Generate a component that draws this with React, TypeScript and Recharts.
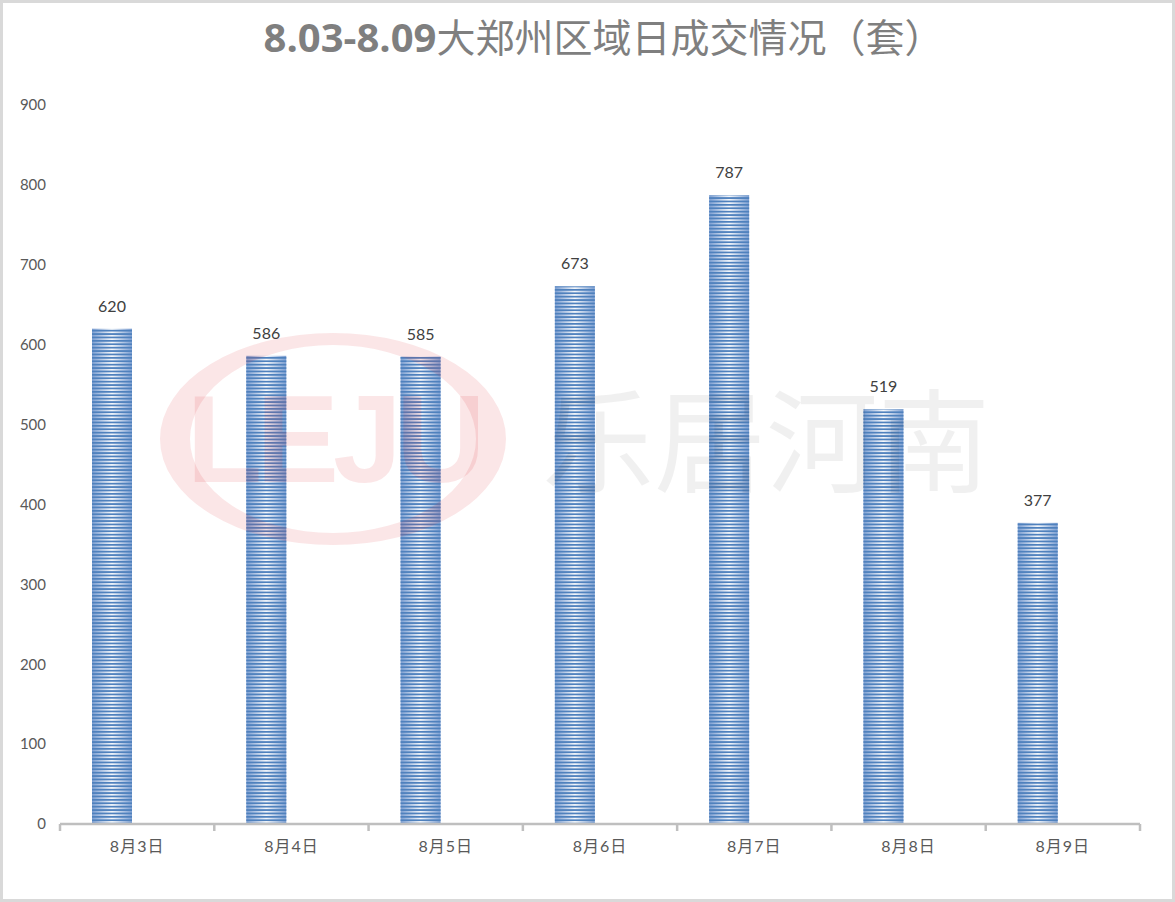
import React from 'react';
import { BarChart, Bar, XAxis, YAxis, LabelList } from 'recharts';

const days = ['8月3日', '8月4日', '8月5日', '8月6日', '8月7日', '8月8日', '8月9日'];
const deals = [620, 586, 585, 673, 787, 519, 377];
const yTicks = [0, 100, 200, 300, 400, 500, 600, 700, 800, 900];

const data = days.map((day, i) => ({ day, deals: deals[i], blank: null }));

const W = 1175;
const H = 902;
const M = { top: 105, right: 35, left: 0, bottom: 0 };
const Y_W = 60;
const BAND = (W - M.left - M.right - Y_W) / days.length;
const FONT = "Lato, 'Noto Sans CJK SC', sans-serif";

const StripedBar = (props: any) => {
    const { x, y, width, height } = props;
    if (!height || height <= 0) return null;
    return (
        <g>
            <rect x={x} y={y} width={width} height={height} fill="url(#barGrad)" />
            <rect x={x} y={y} width={width} height={height} fill="url(#barStripes)" />
        </g>
    );
};

const DayTick = (props: any) => {
    const { x, y, payload, index } = props;
    const left = x - BAND / 2;
    return (
        <g>
            <line x1={left} y1={y} x2={left} y2={y + 7} stroke="#bfbfbf" strokeWidth={2.5} />
            {index === days.length - 1 && (
                <line x1={x + BAND / 2} y1={y} x2={x + BAND / 2} y2={y + 7} stroke="#bfbfbf" strokeWidth={2.5} />
            )}
            <text x={x} y={y + 28} textAnchor="middle" fill="#595959" fontSize={16} letterSpacing={1} fontFamily={FONT}>
                {payload.value}
            </text>
        </g>
    );
};

const Watermark = () => (
    <svg width={W} height={H} style={{ position: 'absolute', left: 0, top: 0, pointerEvents: 'none' }}>
        <path
            fillRule="evenodd"
            fill="rgb(220,30,40)"
            fillOpacity={0.11}
            d="M160,439 a173,106 0 1,0 346,0 a173,106 0 1,0 -346,0 Z M190,439 a143,94 0 1,0 286,0 a143,94 0 1,0 -286,0 Z"
        />
        <text x={333} y={482} textAnchor="middle" fontSize={124} fontWeight={700} fontFamily="'Liberation Sans', sans-serif"
            fill="rgb(220,30,40)" fillOpacity={0.11} letterSpacing={-6}>
            LEJU
        </text>
        <text x={542} y={484} fontSize={112} fontFamily="'Noto Sans CJK SC', sans-serif" fill="#000" fillOpacity={0.06}>
            乐居河南
        </text>
    </svg>
);

export default function App() {
    return (
        <div style={{ position: 'absolute', left: 0, top: 0, width: W, height: H, background: '#fff' }}>
            <svg width={0} height={0} style={{ position: 'absolute' }}>
                <defs>
                    <linearGradient id="barGrad" x1="0" y1="0" x2="1" y2="0">
                        <stop offset="0%" stopColor="#7d9fd2" />
                        <stop offset="50%" stopColor="#f4f7fb" />
                        <stop offset="100%" stopColor="#7d9fd2" />
                    </linearGradient>
                    <pattern id="barStripes" patternUnits="userSpaceOnUse" width={10} height={3.4}>
                        <rect x={0} y={0} width={10} height={1.7} fill="#4f81bd" />
                    </pattern>
                </defs>
            </svg>
            <div style={{
                position: 'absolute', left: 32, top: 9, width: W - 32, textAlign: 'center',
                fontSize: 39, color: '#7f7f7f', fontFamily: "'Noto Sans CJK SC', sans-serif", lineHeight: '52px',
            }}>
                <span style={{ fontWeight: 700, fontSize: 40, fontFamily: "'Open Sans', sans-serif" }}>8.03-8.09</span>
                <span>大郑州区域日成交情况（套）</span>
            </div>
            <div style={{ position: 'absolute', left: 0, top: 0 }}>
                <BarChart width={W} height={H} data={data} margin={M} barGap={11}>
                    <XAxis
                        dataKey="day"
                        height={78}
                        axisLine={{ stroke: '#bfbfbf', strokeWidth: 2.5 }}
                        tickLine={false}
                        tickSize={0}
                        tickMargin={0}
                        interval={0}
                        tick={<DayTick />}
                    />
                    <YAxis
                        width={Y_W}
                        domain={[0, 900]}
                        ticks={yTicks}
                        axisLine={false}
                        tickLine={false}
                        tickSize={0}
                        tickMargin={14}
                        tick={{ fill: '#595959', fontSize: 15, fontFamily: FONT }}
                    />
                    <Bar dataKey="deals" barSize={40} shape={<StripedBar />} isAnimationActive={false}>
                        <LabelList dataKey="deals" position="top" offset={17} fill="#404040" fontSize={16} fontFamily={FONT} />
                    </Bar>
                    <Bar dataKey="blank" barSize={40} isAnimationActive={false} />
                </BarChart>
            </div>
            <Watermark />
            <div style={{
                position: 'absolute', left: 0, top: 0, width: W, height: H, boxSizing: 'border-box',
                border: '3px solid #d9d9d9', pointerEvents: 'none',
            }} />
        </div>
    );
}
